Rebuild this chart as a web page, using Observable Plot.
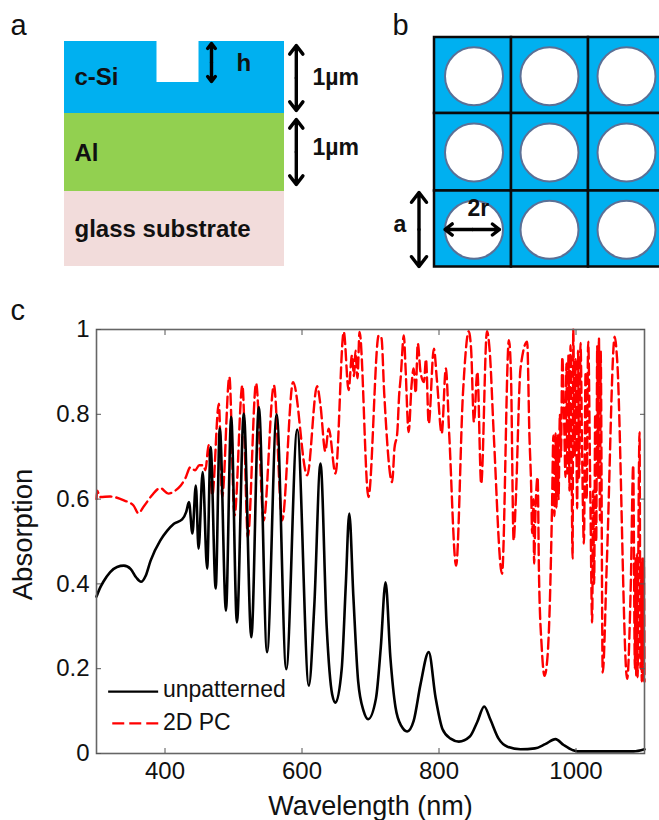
<!DOCTYPE html>
<html><head><meta charset="utf-8">
<style>html,body{margin:0;padding:0;background:#fff}svg{display:block}</style>
<script src="https://cdn.jsdelivr.net/npm/d3@7"></script>
<script src="https://cdn.jsdelivr.net/npm/@observablehq/plot@0.6"></script>
</head><body><div id="top"></div><div id="bottom"></div>
<script>
const FONT = "Liberation Sans, Arial, sans-serif";

// Panel c: unpatterned absorption
const blackWl = [300,305,310,320,330,340,350,358,365,372,379,393,403,413,425,431,435,440,445,449,455,461.5,466.6,474,480,489,496.6,505,515,526,537,549,563,577,593,610,618,627,636,644,649,658,664,669,675,682,690,696.6,708,715,722,729,736.5,745,753.5,763,773,785,795,805,817,829,845,856,866,875,887,900,919,940,955,970,982,995,1002,1084,1100];
const blackAbs = [.37,.39,.405,.428,.44,.443,.435,.415,.405,.42,.455,.502,.525,.542,.552,.57,.593,.519,.632,.483,.664,.436,.723,.389,.767,.337,.794,.309,.802,.274,.817,.239,.80,.199,.764,.16,.35,.684,.3,.14,.12,.2,.4,.566,.37,.17,.1,.081,.13,.25,.404,.227,.109,.065,.052,.077,.163,.239,.132,.058,.035,.028,.04,.075,.111,.08,.035,.016,.01,.012,.022,.034,.02,.008,.005,.005,.01];

// Panel c: 2D PC absorption
const redWl = [300,301,305,320,340,354,361,370,381,393,405,415,423,430,437,444,450,456,459,463.6,469,478.6,483.5,494,501.5,513,521,533,544,559,571,587,607.6,622,627,634,639,649,661,668,673,676,678,681,684,697,712,716,720,731.6,735,739,742,744,748.7,751,755.7,760,763,766,769,773,778,781,785,792.5,797,804,810,815,825,835,843.5,847,851,856,861.6,870,874,880,892,902,905,909,912,919,928.7,932,934.5,936,938,938.8,941,944,946,950,954,958,961.7,965,967,968.5,970,971.5,973,974.5,976.5,978,980,982.5,984.7,986,987.5,989,990.5,992,993.5,995,996,998,999.5,1001.7,1003,1004.5,1006.6,1009,1011.5,1014,1015.5,1017.8,1021,1023.6,1025,1026.5,1028,1029.5,1031,1032.5,1033.5,1035,1036,1039,1045,1056.6,1060,1074.7,1080,1083.5,1086,1087,1088,1089,1090,1091,1092.8,1094,1095,1096,1097,1098,1099,1100];
const redAbs = [.6,.62,.605,.606,.597,.585,.567,.585,.609,.626,.613,.62,.632,.65,.675,.668,.68,.68,.668,.727,.609,.825,.605,.888,.561,.868,.51,.873,.55,.868,.55,.876,.656,.866,.821,.713,.766,.66,.994,.857,.939,.89,.95,.885,.994,.605,.986,.98,.85,.64,.72,.755,.85,.885,.986,.916,.758,.87,.908,.85,.967,.9,.876,.93,.778,.955,.88,.755,.908,.75,.443,.85,.996,.95,.782,.9,.636,.996,.95,.75,.424,.975,.9,.502,.593,.908,.971,.75,.632,.52,.6,.448,.58,.652,.42,.25,.183,.22,.349,.58,.75,.56,.755,.58,.75,.6,.8,.7,.935,.8,.652,.92,.66,.94,.62,.963,.7,.46,1,.7,.93,.578,.95,.65,.968,.7,.495,.9,.6,.971,.6,.309,.62,.4,.8,.5,.96,.65,.98,.55,.95,.191,.45,.983,.93,.176,.4,.68,.2,.46,.18,.47,.18,.47,.758,.2,.45,.17,.46,.17,.46,.17];

const blackSeries = blackWl.map((x,i)=>({x, y:blackAbs[i]}));
const redSeries = redWl.map((x,i)=>({x, y:redAbs[i]}));

const xTicks = [400,600,800,1000];
const yTicks = [0,.2,.4,.6,.8,1];
const legendLabels = ["unpatterned","2D PC"];

// Panels a and b: schematic, in picture units
const layerNames = ["c-Si","Al","glass substrate"];
const layerColors = ["#00B0F0","#92D050","#F2DCDB"];
const layerTops = [41,113,191];
const layerBottoms = [113,191,266];
const layerLeft = 64, layerRight = 284;
const latticeX = [434,511,588,665];
const latticeY = [37,113,190.5,266.5];
const holeX = [473.5,549,626];
const holeY = [75.7,152,229.3];

const layers = layerNames.map((name,i)=>({name,fill:layerColors[i],y1:layerTops[i],y2:layerBottoms[i]}));
const cells = d3.cross(d3.range(3),d3.range(3)).map(([c,r])=>({x1:latticeX[c],x2:latticeX[c+1],y1:latticeY[r],y2:latticeY[r+1]}));
const holes = d3.cross(holeX,holeY).map(([x,y])=>({x,y}));
const arrows = [
  [295.8,77.5,295.8,45],[295.8,77.5,295.8,110],
  [295.8,151.5,295.8,119],[295.8,151.5,295.8,184],
  [211,62,211,43],[211,62,211,81],
  [418.5,229,418.5,192],[418.5,229,418.5,266],
  [472,229,444.5,229],[472,229,499,229]
].map(([x1,y1,x2,y2])=>({x1,y1,x2,y2}));
const labels = [
  {t:"c-Si",x:74,y:77,s:24},{t:"Al",x:74,y:153,s:24},{t:"glass substrate",x:74,y:229,s:24},
  {t:"h",x:236,y:63,s:24},{t:"1µm",x:312,y:77,s:23},{t:"1µm",x:312,y:147,s:23},
  {t:"a",x:393,y:224,s:23},{t:"2r",x:467,y:208,s:23}
];
const letters = [{t:"a",x:10,y:25},{t:"b",x:392,y:25}];

document.getElementById("top").append(Plot.plot({
  width:659,height:280,margin:0,
  x:{domain:[0,659],range:[0,659],axis:null},
  y:{domain:[0,280],range:[0,280],axis:null},
  style:{fontFamily:FONT,background:"#fff"},
  marks:[
    Plot.rect(layers,{x1:layerLeft,x2:layerRight,y1:"y1",y2:"y2",fill:"fill"}),
    Plot.rect([{x1:156.5,x2:198.5,y1:41,y2:82}],{x1:"x1",x2:"x2",y1:"y1",y2:"y2",fill:"#fff"}),
    Plot.rect(cells,{x1:"x1",x2:"x2",y1:"y1",y2:"y2",fill:"#00B0F0",stroke:"#0a0a0a",strokeWidth:2.5}),
    Plot.dot(holes,{x:"x",y:"y",r:29,fill:"#fff",stroke:"#5b7096",strokeWidth:2}),
    Plot.arrow(arrows,{x1:"x1",y1:"y1",x2:"x2",y2:"y2",bend:0,stroke:"#000",strokeWidth:3.4,headLength:13,headAngle:75}),
    ...[24,23].map(s=>Plot.text(labels.filter(d=>d.s===s),{x:"x",y:"y",text:"t",textAnchor:"start",fontSize:s,fontWeight:"bold",fill:"#111"})),
    Plot.text(letters,{x:"x",y:"y",text:"t",textAnchor:"start",fontSize:29,fill:"#111"})
  ]
}));

document.getElementById("bottom").append(Plot.plot({
  width:659,height:540,marginLeft:96,marginRight:15,marginTop:49,marginBottom:67,
  x:{domain:[300,1100],axis:null},
  y:{domain:[0,1],axis:null},
  style:{fontFamily:FONT,background:"transparent"},
  marks:[
    Plot.line(redSeries,{x:"x",y:"y",stroke:"#f00",strokeWidth:2.4,strokeDasharray:"11,5",curve:"monotone-x"}),
    Plot.line(blackSeries,{x:"x",y:"y",stroke:"#000",strokeWidth:2.6,curve:"monotone-x"}),
    Plot.frame({stroke:"#666",strokeWidth:1.6}),
    Plot.axisX(xTicks,{anchor:"bottom",tickSize:-5,tickPadding:13,fontSize:24,label:null,tickFormat:d=>String(d),stroke:"#555",fill:"#111"}),
    Plot.axisX(xTicks,{anchor:"top",tickSize:-5,tickFormat:()=>"",label:null,stroke:"#555"}),
    Plot.axisY(yTicks,{anchor:"left",tickSize:-5,tickPadding:12,fontSize:24,label:null,tickFormat:d=>String(d),stroke:"#555",fill:"#111"}),
    Plot.axisY(yTicks,{anchor:"right",tickSize:-5,tickFormat:()=>"",label:null,stroke:"#555"}),
    Plot.text(["Wavelength (nm)"],{frameAnchor:"bottom",dy:53,fontSize:27,fill:"#111",lineAnchor:"middle"}),
    Plot.text(["Absorption"],{frameAnchor:"left",dx:-73,dy:-7,rotate:-90,textAnchor:"middle",fontSize:27.5,fill:"#111"}),
    Plot.text(["c"],{frameAnchor:"top-left",dx:-86,dy:-19,fontSize:29,fill:"#111",lineAnchor:"middle"}),
    Plot.link([{x1:317,x2:390,y:.146}],{x1:"x1",x2:"x2",y1:"y",y2:"y",stroke:"#000",strokeWidth:2.4}),
    Plot.link([{x1:323,x2:392,y:.071}],{x1:"x1",x2:"x2",y1:"y",y2:"y",stroke:"#f00",strokeWidth:2.2,strokeDasharray:"12,5"}),
    Plot.text(legendLabels,{x:397,y:[.15,.072],textAnchor:"start",fontSize:23,fill:"#111"})
  ]
}));
</script></body></html>
